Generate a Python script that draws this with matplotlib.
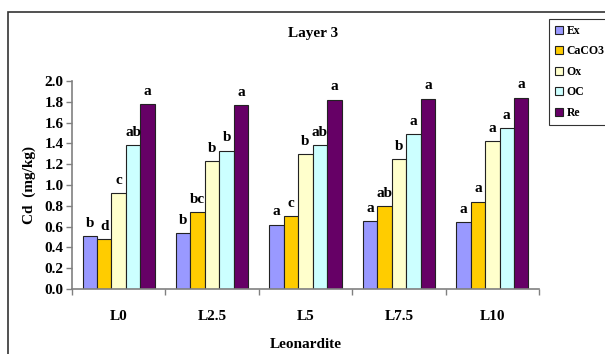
import numpy as np
import matplotlib
matplotlib.use("Agg")
import matplotlib.pyplot as plt
from matplotlib.patches import Rectangle

categories = ["L0", "L2.5", "L5", "L7.5", "L10"]
series = ["Ex", "CaCO3", "Ox", "OC", "Re"]
values = {
    "Ex":    [0.51, 0.54, 0.62, 0.65, 0.64],
    "CaCO3": [0.48, 0.74, 0.70, 0.80, 0.84],
    "Ox":    [0.92, 1.23, 1.30, 1.25, 1.42],
    "OC":    [1.38, 1.33, 1.38, 1.49, 1.55],
    "Re":    [1.78, 1.77, 1.82, 1.83, 1.84],
}
letters = {
    "Ex":    ["b", "b", "a", "a", "a"],
    "CaCO3": ["d", "bc", "c", "ab", "a"],
    "Ox":    ["c", "b", "b", "b", "a"],
    "OC":    ["ab", "b", "ab", "a", "a"],
    "Re":    ["a", "a", "a", "a", "a"],
}
colors = ["#9999FF", "#FFCC00", "#FFFFCC", "#CCFFFF", "#660066"]

plt.rcParams['font.family'] = ['Liberation Serif', 'DejaVu Serif']
plt.rcParams['font.weight'] = 'bold'

W, H = 605, 354
fig = plt.figure(figsize=(W / 100, H / 100), dpi=100)
ax = fig.add_axes([72 / W, 1 - 289 / H, (539 - 72) / W, (289 - 81) / H])

# outer chart border (runs off the crop on right and bottom)
fig.patches.append(Rectangle((7.5 / W, -0.1), 1.2, 1.1 - 12.5 / H,
                             transform=fig.transFigure, fill=False,
                             edgecolor="#333333", linewidth=1.2))

x = np.arange(len(categories))
bw = 0.155
for i, (s, c) in enumerate(zip(series, colors)):
    pos = x + (i - 2) * bw
    ax.bar(pos, values[s], width=bw, color=c, edgecolor="#222222",
           linewidth=0.8, label=s, zorder=2)
    for px, v, t in zip(pos, values[s], letters[s]):
        ax.annotate(t, (px, v), xytext=(0, 4.5), textcoords="offset points",
                    ha="center", va="bottom", fontsize=11, fontweight="bold")

ax.set_xlim(-0.5, len(categories) - 0.5)
ax.set_ylim(0, 2.0)
ax.set_yticks(np.arange(0, 2.01, 0.2))
ax.set_yticklabels([f"{v:.1f}" for v in np.arange(0, 2.01, 0.2)])
ax.set_xticks(x)
ax.set_xticklabels(categories)
ax.set_xticks(np.arange(-0.5, len(categories)), minor=True)
ax.tick_params(axis="x", which="major", length=0, pad=15, labelsize=11)
ax.tick_params(axis="x", which="minor", length=4, color="#808080", width=1)
ax.tick_params(axis="y", length=4, color="#808080", width=1, labelsize=11, pad=2)

for side in ["top", "right"]:
    ax.spines[side].set_visible(False)
for side in ["left", "bottom"]:
    ax.spines[side].set_color("#808080")
    ax.spines[side].set_linewidth(1.2)

ax.set_ylabel("Cd  (mg/kg)", fontsize=11, fontweight="bold", labelpad=6)
ax.set_xlabel("Leonardite", fontsize=11, fontweight="bold", labelpad=11)
fig.text(313 / W, 1 - 33 / H, "Layer 3", ha="center", va="center",
         fontsize=11, fontweight="bold")

leg = ax.legend(loc="upper left", bbox_to_anchor=(549 / W, 1 - 19 / H),
                bbox_transform=fig.transFigure, fontsize=8.5, frameon=True,
                fancybox=False, edgecolor="black", handlelength=0.7,
                handleheight=0.7, handletextpad=0.3, labelspacing=0.72,
                borderpad=0.5, borderaxespad=0)
leg.get_frame().set_linewidth(0.8)

fig.savefig("out.png", dpi=100)
